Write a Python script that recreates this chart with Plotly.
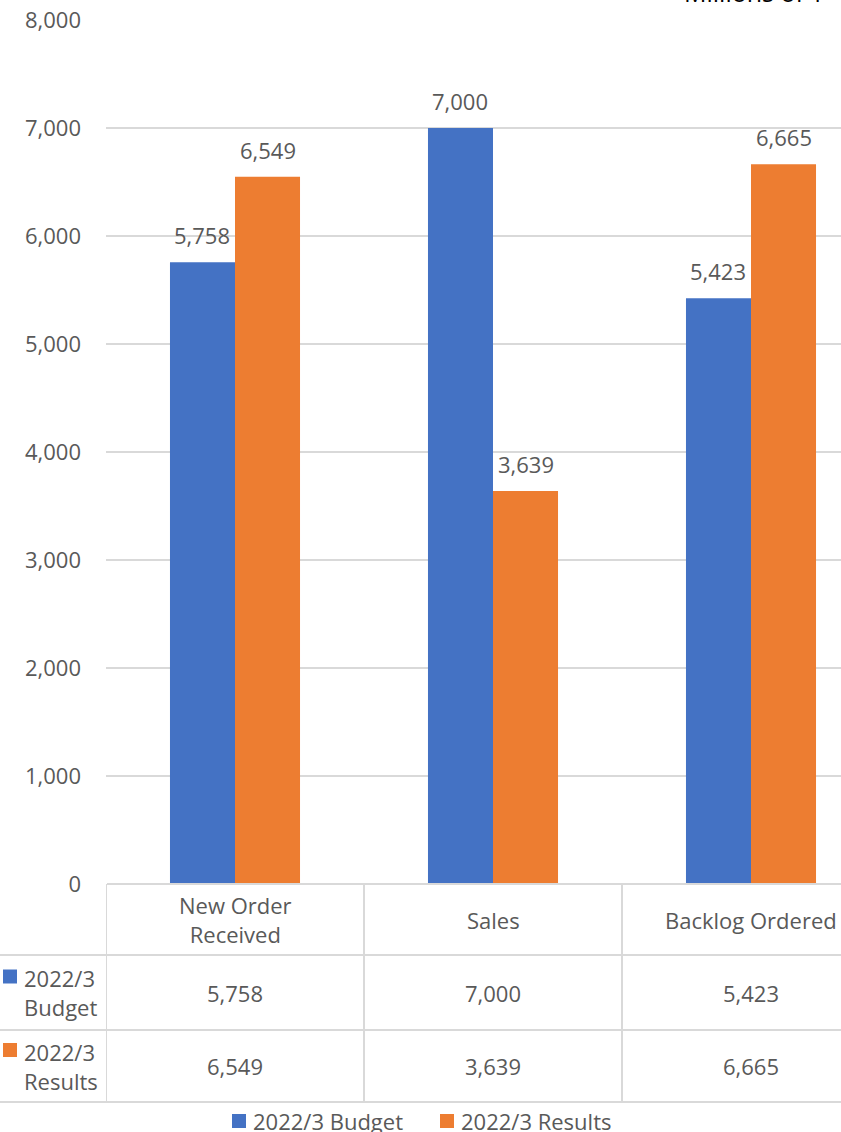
import plotly.graph_objects as go

# Chart data
categories = ["New Order Received", "Sales", "Backlog Ordered"]
category_labels = ["New Order<br>Received", "Sales", "Backlog Ordered"]
series_names = ["2022/3 Budget", "2022/3 Results"]
series_row_labels = ["2022/3<br>Budget", "2022/3<br>Results"]
budget = [5758, 7000, 5423]
results = [6549, 3639, 6665]
y_ticks = [0, 1000, 2000, 3000, 4000, 5000, 6000, 7000, 8000]
unit_label = "Millions of ¥"

colors = ["#4472C4", "#ED7D31"]
text_color = "#595959"
grid_color = "#D9D9D9"
font_family = "Open Sans"
font_size = 22

W, H = 841, 1132
M_L, M_R, M_T, M_B = 106, 0, 20, 248
plot_w = W - M_L - M_R
plot_h = H - M_T - M_B
cat_px = 258  # width of one category band in pixels
x_max = -0.5 + plot_w / cat_px


def py(pix):
    """Pixel row (from top) -> paper y."""
    return (H - M_B - pix) / plot_h


def px(pix):
    """Pixel column (from left) -> paper x."""
    return (pix - M_L) / plot_w


fig = go.Figure()
for name, vals, col in zip(series_names, [budget, results], colors):
    fig.add_trace(go.Bar(
        x=categories, y=vals, name=name, marker=dict(color=col, line=dict(width=0)),
        showlegend=False,
    ))

annotations = []
shapes = []

# value labels above bars
bar_half = cat_px * (1 - 0.496) / 4
for vals, dx in zip([budget, results], [-bar_half, bar_half]):
    for c, v in zip(categories, vals):
        annotations.append(dict(
            x=c, y=v, xref="x", yref="y", text=f"{v:,}", showarrow=False,
            xshift=dx, yshift=10, yanchor="bottom",
            font=dict(family=font_family, size=font_size, color=text_color),
        ))

# unit label at top right
annotations.append(dict(
    x=px(827), y=py(11), xref="paper", yref="paper", text=unit_label,
    showarrow=False, xanchor="right", yanchor="bottom",
    font=dict(family=font_family, size=25, color="#000000"),
))

# data table beneath the plot
row_edges = [884, 955, 1030, 1102]
line_style = dict(color=grid_color, width=2)
shapes.append(dict(type="line", xref="paper", yref="paper",
                   x0=px(107), x1=1, y0=py(884), y1=py(884), line=line_style))
for r in row_edges[1:]:
    shapes.append(dict(type="line", xref="paper", yref="paper",
                       x0=px(0), x1=1, y0=py(r), y1=py(r), line=line_style))
for xv in [-0.5, 0.5, 1.5]:
    shapes.append(dict(type="line", xref="x", yref="paper",
                       x0=xv, x1=xv, y0=py(884), y1=py(1102), line=line_style))

# header row: category names
hdr_c = (row_edges[0] + row_edges[1]) / 2
for c, lab in zip(categories, category_labels):
    annotations.append(dict(
        x=c, y=py(hdr_c), xref="x", yref="paper", text=lab, showarrow=False,
        yanchor="middle", align="center",
        font=dict(family=font_family, size=font_size, color=text_color),
    ))

# series rows
for i, (lab, vals, col) in enumerate(zip(series_row_labels, [budget, results], colors)):
    top, bot = row_edges[i + 1], row_edges[i + 2]
    mid = (top + bot) / 2
    annotations.append(dict(
        x=px(22), y=py(mid), xref="paper", yref="paper", text=lab, showarrow=False,
        xanchor="left", yanchor="middle", align="left",
        font=dict(family=font_family, size=font_size, color=text_color),
    ))
    sq_top = mid - 23
    shapes.append(dict(type="rect", xref="paper", yref="paper",
                       x0=px(3), x1=px(17), y0=py(sq_top), y1=py(sq_top + 14),
                       fillcolor=col, line=dict(width=0)))
    for c, v in zip(categories, vals):
        annotations.append(dict(
            x=c, y=py(mid), xref="x", yref="paper", text=f"{v:,}", showarrow=False,
            yanchor="middle",
            font=dict(family=font_family, size=font_size, color=text_color),
        ))

# legend along the bottom
legend_y = 1121
for name, col, x0 in zip(series_names, colors, [232, 440]):
    shapes.append(dict(type="rect", xref="paper", yref="paper",
                       x0=px(x0), x1=px(x0 + 14), y0=py(legend_y - 7), y1=py(legend_y + 7),
                       fillcolor=col, line=dict(width=0)))
    annotations.append(dict(
        x=px(x0 + 19), y=py(legend_y), xref="paper", yref="paper", text=name,
        showarrow=False, xanchor="left", yanchor="middle",
        font=dict(family=font_family, size=font_size, color=text_color),
    ))

fig.update_layout(
    width=W, height=H,
    margin=dict(l=M_L, r=M_R, t=M_T, b=M_B, pad=0),
    paper_bgcolor="white", plot_bgcolor="white",
    barmode="group", bargap=0.496, bargroupgap=0,
    font=dict(family=font_family, size=font_size, color=text_color),
    annotations=annotations, shapes=shapes,
    xaxis=dict(type="category", range=[-0.5, x_max], showticklabels=False,
               showgrid=False, zeroline=False, showline=False, fixedrange=True),
    yaxis=dict(range=[0, 8000], tickvals=y_ticks, tickformat=",", showgrid=True,
               gridcolor=grid_color, gridwidth=2, zeroline=False, showline=False,
               ticks="", ticklabelstandoff=24,
               tickfont=dict(family=font_family, size=font_size, color=text_color)),
)

fig.write_html("out.html")
